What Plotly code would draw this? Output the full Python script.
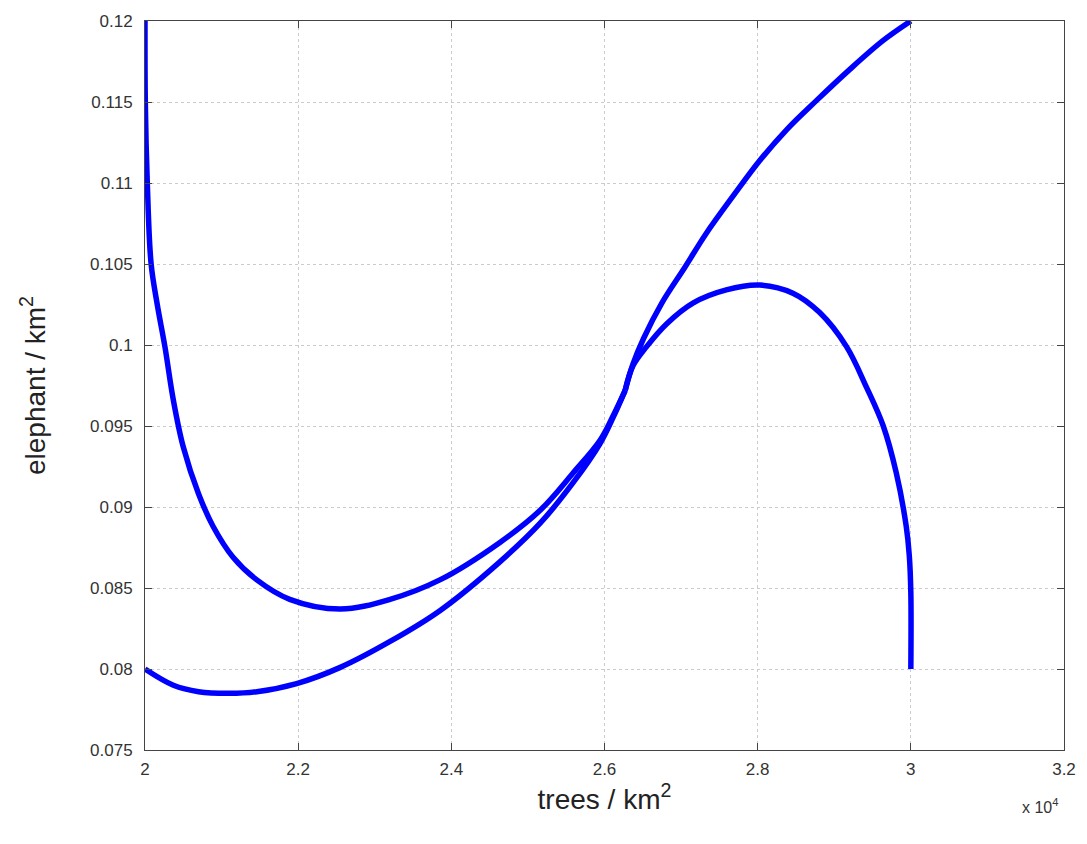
import plotly.graph_objects as go

# Trajectories in the tree / elephant density plane (trees in units of 1e4)
# Path starting at high elephant, low tree density
traj1_trees = [2.0, 2.0004, 2.003, 2.008, 2.016, 2.026, 2.037, 2.050, 2.070, 2.089,
               2.115, 2.146, 2.189, 2.255, 2.320, 2.385, 2.463, 2.516, 2.559, 2.594,
               2.611, 2.627]
traj1_eleph = [0.12, 0.115, 0.11, 0.105, 0.1025, 0.0999, 0.0966, 0.0937, 0.0908, 0.0888,
               0.0869, 0.0855, 0.0843, 0.0837, 0.0843, 0.0855, 0.0878, 0.0898, 0.0921, 0.0941,
               0.0956, 0.0972]

# Path starting at low elephant, low tree density
traj2_trees = [2.0, 2.037, 2.070, 2.110, 2.146, 2.198, 2.255, 2.320, 2.385, 2.463,
               2.516, 2.559, 2.594, 2.611, 2.627]
traj2_eleph = [0.0800, 0.0790, 0.0786, 0.0785, 0.0786, 0.0791, 0.0801, 0.0817, 0.0836, 0.0866,
               0.0890, 0.0915, 0.0939, 0.0955, 0.0972]

# Path starting at high elephant, high tree density
traj3_trees = [3.0, 2.964, 2.920, 2.877, 2.838, 2.803, 2.768, 2.733, 2.705, 2.675,
               2.651, 2.637, 2.627]
traj3_eleph = [0.12, 0.1188, 0.1170, 0.1151, 0.1133, 0.1114, 0.1092, 0.1069, 0.1048, 0.1026,
               0.1004, 0.0988, 0.0972]

# Path starting at low elephant, high tree density
traj4_trees = [3.0, 3.0, 2.998, 2.994, 2.981, 2.964, 2.942, 2.916, 2.881, 2.846,
               2.803, 2.759, 2.716, 2.681, 2.655, 2.637, 2.627]
traj4_eleph = [0.0800, 0.0847, 0.0870, 0.0888, 0.0921, 0.0950, 0.0974, 0.0999, 0.1020, 0.1032,
               0.1037, 0.1034, 0.1026, 0.1013, 0.0999, 0.0987, 0.0972]

x_ticks = [2.0, 2.2, 2.4, 2.6, 2.8, 3.0, 3.2]
x_tick_text = ["2", "2.2", "2.4", "2.6", "2.8", "3", "3.2"]
y_ticks = [0.075, 0.08, 0.085, 0.09, 0.095, 0.1, 0.105, 0.11, 0.115, 0.12]
y_tick_text = ["0.075", "0.08", "0.085", "0.09", "0.095", "0.1", "0.105", "0.11", "0.115", "0.12"]

FONT = "Liberation Sans, Arial, sans-serif"

fig = go.Figure()
for xs, ys in [(traj1_trees, traj1_eleph), (traj2_trees, traj2_eleph),
               (traj3_trees, traj3_eleph), (traj4_trees, traj4_eleph)]:
    fig.add_trace(go.Scatter(
        x=xs, y=ys, mode="lines",
        line=dict(color="#0000ff", width=5.5, shape="spline", smoothing=1.0),
        showlegend=False, hoverinfo="skip",
    ))

axis_common = dict(
    showgrid=True, gridcolor="#cccccc", griddash="dot", gridwidth=1,
    showline=True, linecolor="#444444", linewidth=1, mirror="ticks",
    ticks="inside", ticklen=7, tickcolor="#444444",
    tickfont=dict(family=FONT, size=17, color="#333333"),
    zeroline=False,
)

fig.update_xaxes(
    range=[2.0, 3.2], tickvals=x_ticks, ticktext=x_tick_text,
    ticklabelstandoff=4,
    title=dict(text="trees / km<sup>2</sup>",
               font=dict(family=FONT, size=28, color="#222222"),
               standoff=8),
    **axis_common,
)
fig.update_yaxes(
    range=[0.075, 0.12], tickvals=y_ticks, ticktext=y_tick_text,
    ticklabelstandoff=8,
    title=dict(text="elephant / km<sup>2</sup>",
               font=dict(family=FONT, size=28, color="#222222"),
               standoff=36),
    **axis_common,
)

fig.add_annotation(
    x=1.0, y=0.0, xref="paper", yref="paper", xanchor="right", yanchor="top",
    xshift=-4, yshift=-44, showarrow=False,
    text="x 10<sup>4</sup>",
    font=dict(family=FONT, size=16, color="#333333"),
)

fig.update_layout(
    width=1087, height=844,
    margin=dict(l=145, r=23, t=21, b=94),
    paper_bgcolor="white", plot_bgcolor="white",
)

fig.write_html("out.html")
